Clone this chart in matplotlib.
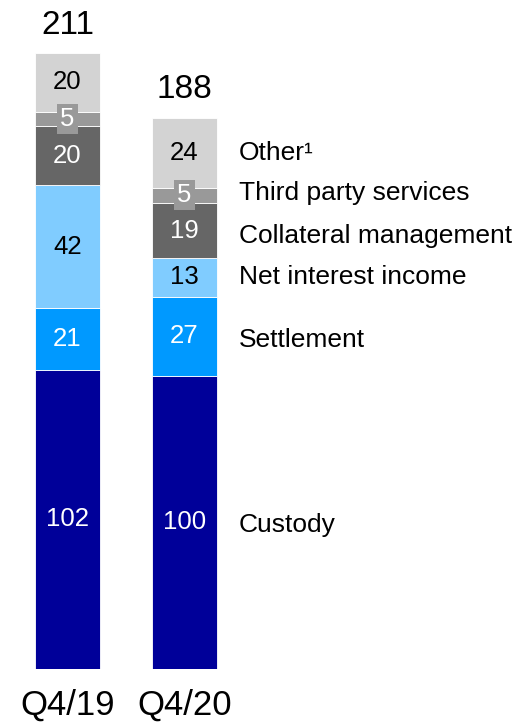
import numpy as np
import matplotlib
matplotlib.use("Agg")
import matplotlib.pyplot as plt

plt.rcParams['font.family'] = ['Liberation Sans', 'DejaVu Sans']

# data
periods = ['Q4/19', 'Q4/20']
segments = ['Custody', 'Settlement', 'Net interest income',
            'Collateral management', 'Third party services', 'Other¹']
custody = [102, 100]
settlement = [21, 27]
net_interest = [42, 13]
collateral = [20, 19]
third_party = [5, 5]
other = [20, 24]
totals = [211, 188]

series = [custody, settlement, net_interest, collateral, third_party, other]
colors = ['#000099', '#0099FF', '#80CCFF', '#666666', '#999999', '#D3D3D3']
text_colors = ['white', 'white', 'black', 'white', 'white', 'black']
# small nudges for right-side labels (data units)
label_nudge = [-1, -1.2, 0, -2, 0.8, 0]

fig = plt.figure(figsize=(5.17, 7.22), dpi=100)
ax = fig.add_axes([0, 0.0734, 1, 0.9266])

x = np.arange(len(periods))
width = 0.556
bottom = np.zeros(len(periods))
for vals, col, tc in zip(series, colors, text_colors):
    vals = np.array(vals, dtype=float)
    ax.bar(x, vals, width, bottom=bottom, color=col, edgecolor='white', linewidth=0.6)
    for xi, b, v in zip(x, bottom, vals):
        kw = {}
        if v < 8:
            kw['bbox'] = dict(boxstyle='square,pad=0.12', fc=col, ec='none')
        ax.text(xi, b + v / 2, f'{int(v)}', ha='center', va='center',
                color=tc, fontsize=18.5, **kw)
    bottom += vals

# segment labels at the right, aligned to the Q4/20 bar
b = 0
for name, vals, nd in zip(segments, series, label_nudge):
    v = vals[-1]
    ax.text(1.466, b + v / 2 + nd, name, ha='left', va='center', fontsize=19)
    b += v

for xi, t, top in zip(x, totals, bottom):
    ax.annotate(f'{t}', (xi, top), xytext=(0, 9), textcoords='offset points',
                ha='center', va='bottom', fontsize=24)

ax.set_xticks(x)
ax.set_xticklabels(periods, fontsize=25)
ax.tick_params(axis='x', length=0, pad=14)
ax.set_yticks([])
ax.set_xlim(-0.577, 3.842)
ax.set_ylim(0, 228.1)
for s in ax.spines.values():
    s.set_visible(False)

fig.savefig('out.png', dpi=100)
